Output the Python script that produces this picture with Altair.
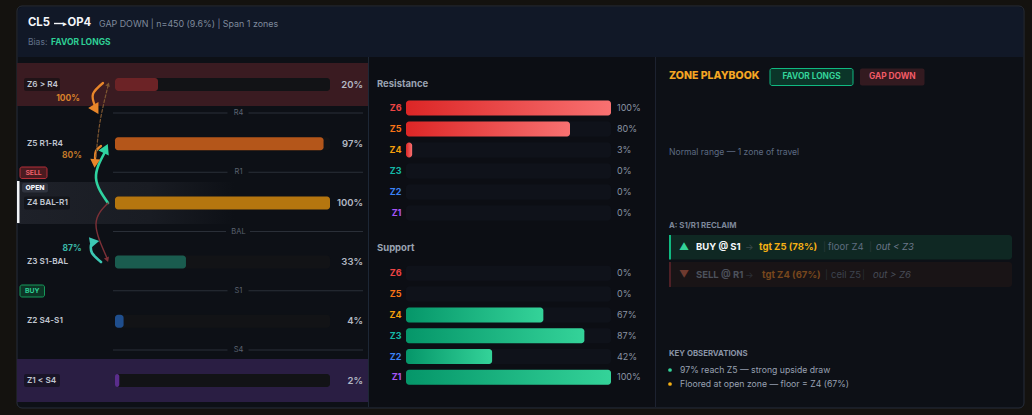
import altair as alt
import pandas as pd

W, H = 1032, 415
FONT = "Inter"

# ---------------- data ----------------
zones = ["Z6", "Z5", "Z4", "Z3", "Z2", "Z1"]
zone_names = ["Z6 > R4", "Z5 R1-R4", "Z4 BAL-R1", "Z3 S1-BAL", "Z2 S4-S1", "Z1 < S4"]
zone_pill = [True, False, True, False, False, True]
reach_pct = [20, 97, 100, 33, 4, 2]
reach_fill = ["#6c2326", "#b4561a", "#b5760f", "#1a5c4f", "#1f4e8d", "#5a2d8c"]
zone_text_colors = ["#ef4444", "#f97316", "#f59e0b", "#14b8a6", "#3b82f6", "#a855f7"]
levels = ["R4", "R1", "BAL", "S1", "S4"]
resistance_pct = [100, 80, 3, 0, 0, 0]
support_pct = [0, 0, 67, 87, 42, 100]

# transition arrows drawn over the ladder: (name, colour, width, dashed, points)
arrow_paths = [
    ("up6", "#e8862a", 2.3, False, [(103, 83), (93, 94), (95, 106)]),
    ("hold5", "#e8862a", 2.3, False, [(101, 146), (96, 151), (95, 159)]),
    ("reach6", "#7d5631", 1.2, True, [(96, 157), (100, 122), (108, 86)]),
    ("up5", "#2fd3a0", 2.6, False, [(108, 203), (96, 178), (105, 152)]),
    ("down3", "#7c3037", 1.4, False, [(108, 203), (96, 224), (107, 258)]),
    ("hold3", "#3cc8b4", 2.6, False, [(101, 262), (92, 253), (91, 245)]),
]
# arrow heads: x, y, angle, size, colour
arrow_heads = [
    (95, 108, 150, 140, "#e8862a"),
    (95, 162, 185, 100, "#e8862a"),
    (108, 85, 20, 22, "#7d5631"),
    (105, 150, 25, 130, "#2fd3a0"),
    (107, 259, 160, 30, "#7c3037"),
    (93, 242, 320, 120, "#3cc8b4"),
]
arrow_pcts = [("100%", 68, 98, "#d9822b"), ("80%", 72, 155, "#c0782a"), ("87%", 72, 248, "#3ab8a8")]


# ---------------- helpers ----------------
def one():
    return pd.DataFrame({"k": [0]})


def sx():
    return alt.Scale(domain=[0, W], range=[0, W], nice=False, zero=False)


def sy():
    return alt.Scale(domain=[0, H], range=[0, H], nice=False, zero=False)


def box(x0, x1, y0, y1, fill, **kw):
    return alt.Chart(one()).mark_rect(color=fill, **kw).encode(
        x=alt.value(x0), x2=alt.value(x1), y=alt.value(y0), y2=alt.value(y1))


def vline(x, y0, y1, color):
    return alt.Chart(one()).mark_rule(color=color, strokeWidth=1).encode(
        x=alt.value(x), y=alt.value(y0), y2=alt.value(y1))


def label(x, y, s, color, size=9, weight="normal", align="left", style="normal"):
    return alt.Chart(one()).mark_text(
        text=s, color=color, fontSize=size, fontWeight=weight, align=align,
        baseline="middle", font=FONT, fontStyle=style,
    ).encode(x=alt.value(x), y=alt.value(y))


def band(domain, r0, r1):
    return alt.Scale(type="band", domain=domain, range=[r0, r1], paddingInner=0, paddingOuter=0)


def pts(domain, r0, r1, pad=0.5):
    return alt.Scale(type="point", domain=domain, range=[r0, r1], padding=pad)


def grad(c0, c1):
    return alt.LinearGradient(
        gradient="linear", x1=0, x2=1, y1=0, y2=0,
        stops=[alt.GradientStop(color=c0, offset=0), alt.GradientStop(color=c1, offset=1)])


layers = []

# ---------------- card ----------------
layers.append(box(17, 1024, 6, 408, "#0d1016", stroke="#262d3a", strokeWidth=1, cornerRadius=5))
layers.append(box(18, 1023, 7, 57, "#111827", cornerRadiusTopLeft=4, cornerRadiusTopRight=4))
layers.append(box(369, 655, 57, 407, "#0c0e14"))
layers.append(vline(368.5, 57, 407, "#1d2735"))
layers.append(vline(655.5, 57, 407, "#1d2230"))

# header
layers.append(label(28, 23, "CL5", "#f4f6fa", 11.3, 700))
layers.append(alt.Chart(one()).mark_rule(color="#f4f6fa", strokeWidth=1.4).encode(
    x=alt.value(54), x2=alt.value(63), y=alt.value(23.5)))
layers.append(label(64.5, 23.5, "▸", "#f4f6fa", 7, 700, "center"))
layers.append(label(67.5, 23, "OP4", "#f4f6fa", 11.3, 700))
layers.append(label(99, 24, "GAP DOWN | n=450 (9.6%) | Span 1 zones", "#7f8a9c", 8.9))
layers.append(label(28, 42, "Bias:", "#61718a", 8.5))
layers.append(label(51, 42, "FAVOR LONGS", "#2ecf95", 8.5, 700))

# ---------------- left panel: zone ladder ----------------
ladder = pd.DataFrame({
    "zone": zones, "name": zone_names, "pill": zone_pill, "pct": reach_pct,
    "fill": reach_fill, "zero": 0, "label": [f"{v}%" for v in reach_pct],
})
ladder["px0"] = 24
ladder["px1"] = 24 + ladder["name"].str.len() * 5.0 + 1
ladder["bx0"] = 17
ladder["bx1"] = 368
ybar = band(zones, 54.9, 410.1)
ytxt = pts(zones, 54.9, 410.1)

edge_rows = ladder[ladder["zone"].isin(["Z6", "Z1"])].copy()
edge_rows["bg"] = ["#3a1b21", "#2a1e43"]
layers.append(alt.Chart(edge_rows).mark_bar(size=43).encode(
    x=alt.X("bx0:Q", scale=sx(), axis=None), x2="bx1",
    y=alt.Y("zone:N", scale=ybar, axis=None),
    color=alt.Color("bg:N", scale=None)))

open_row = ladder[ladder["zone"] == "Z4"]
layers.append(alt.Chart(open_row).mark_bar(
    size=42,
    color=alt.LinearGradient(
        gradient="linear", x1=0, x2=1, y1=0, y2=0,
        stops=[alt.GradientStop(color="#1e2129", offset=0),
               alt.GradientStop(color="#191c23", offset=0.38),
               alt.GradientStop(color="#0d1016", offset=0.62),
               alt.GradientStop(color="#0d1016", offset=1)]),
).encode(x=alt.X("bx0:Q", scale=sx(), axis=None), x2="bx1",
         y=alt.Y("zone:N", scale=ybar, axis=None)))
layers.append(box(17, 19.5, 181, 223, "#f1f3f6"))

# level separators
lv = []
for name in levels:
    half = 7.5 + 1.5 * len(name)
    lv.append({"level": name, "a": 113, "b": 238 - half})
    lv.append({"level": name, "a": 238 + half, "b": 363})
lv = pd.DataFrame(lv)
ylv = pts(levels, 113, 350, pad=0)
layers.append(alt.Chart(lv).mark_rule(color="#2a2f38", strokeWidth=1).encode(
    x=alt.X("a:Q", scale=sx(), axis=None), x2="b",
    y=alt.Y("level:N", scale=ylv, axis=None)))
layers.append(alt.Chart(pd.DataFrame({"level": levels})).mark_text(
    font=FONT, fontSize=7.5, color="#5b6270", baseline="middle", align="center",
).encode(x=alt.value(238.5), y=alt.Y("level:N", scale=ylv, axis=None), text="level:N"))

# reach bars
xreach = alt.Scale(domain=[0, 100], range=[115, 330], nice=False, zero=False)
track = ladder.assign(full=100)
layers.append(alt.Chart(track).mark_bar(size=13, color="#121316", cornerRadius=3).encode(
    x=alt.X("zero:Q", scale=xreach, axis=None), x2="full",
    y=alt.Y("zone:N", scale=ybar, axis=None)))
layers.append(alt.Chart(ladder).mark_bar(size=13, cornerRadius=3).encode(
    x=alt.X("zero:Q", scale=xreach, axis=None), x2="pct",
    y=alt.Y("zone:N", scale=ybar, axis=None),
    color=alt.Color("fill:N", scale=None)))
layers.append(alt.Chart(ladder).mark_text(
    font=FONT, fontSize=9.5, fontWeight=600, color="#b3b9c4", align="right", baseline="middle",
).encode(x=alt.value(363), y=alt.Y("zone:N", scale=ytxt, axis=None), text="label:N"))

# zone names (some inside a pill)
pills = ladder[ladder["pill"]]
layers.append(alt.Chart(pills).mark_bar(size=13, cornerRadius=2, color="#0b0c10", opacity=0.55).encode(
    x=alt.X("px0:Q", scale=sx(), axis=None), x2="px1",
    y=alt.Y("zone:N", scale=ybar, axis=None)))
layers.append(alt.Chart(ladder).mark_text(
    font=FONT, fontSize=8.2, fontWeight=600, color="#c0c6d0", align="left", baseline="middle",
).encode(x=alt.value(27), y=alt.Y("zone:N", scale=ytxt, axis=None), text="name:N"))

# badges
layers.append(box(20, 47, 167, 178.5, "#4a1b20", stroke="#b52f39", strokeWidth=1, cornerRadius=2))
layers.append(label(33.5, 173, "SELL", "#f0606a", 6.8, 700, "center"))
layers.append(box(22, 48, 183, 192.5, "#30343f", cornerRadius=2))
layers.append(label(35, 188, "OPEN", "#f4f6fb", 6.8, 800, "center"))
layers.append(box(20, 44.5, 285, 297, "#0d3526", stroke="#169a5a", strokeWidth=1, cornerRadius=2))
layers.append(label(32.3, 291, "BUY", "#2ecf95", 6.8, 700, "center"))

# transition arrows
path_rows, dash_rows = [], []
for name, col, w, dashed, points in arrow_paths:
    for i, (x, y) in enumerate(points):
        row = {"curve": name, "i": i, "x": x, "y": y, "col": col, "w": w}
        (dash_rows if dashed else path_rows).append(row)
for rows, dash in ((path_rows, None), (dash_rows, [3, 2])):
    mk = dict(interpolate="natural", strokeCap="round")
    if dash:
        mk["strokeDash"] = dash
    layers.append(alt.Chart(pd.DataFrame(rows)).mark_line(**mk).encode(
        x=alt.X("x:Q", scale=sx(), axis=None), y=alt.Y("y:Q", scale=sy(), axis=None),
        detail="curve:N", order="i:Q",
        color=alt.Color("col:N", scale=None),
        strokeWidth=alt.StrokeWidth("w:Q", scale=None)))
heads = pd.DataFrame(arrow_heads, columns=["x", "y", "ang", "s", "col"])
layers.append(alt.Chart(heads).mark_point(shape="triangle", filled=True, opacity=1).encode(
    x=alt.X("x:Q", scale=sx(), axis=None), y=alt.Y("y:Q", scale=sy(), axis=None),
    angle=alt.Angle("ang:Q", scale=None), size=alt.Size("s:Q", scale=None),
    color=alt.Color("col:N", scale=None)))
for txt, x, y, col in arrow_pcts:
    layers.append(label(x, y, txt, col, 8.5, 700, "center"))

# ---------------- middle panel: resistance / support ----------------
xmid = alt.Scale(domain=[0, 100], range=[406, 611], nice=False, zero=False)


def strength_block(title, title_y, values, r0, r1, c0, c1):
    df = pd.DataFrame({"zone": zones, "pct": values, "zero": 0, "full": 100,
                       "tc": zone_text_colors, "label": [f"{v}%" for v in values]})
    yb = band(zones, r0, r1)
    yt = pts(zones, r0, r1)
    out = [label(377, title_y, title, "#9aa3b2", 9.5, 700)]
    out.append(alt.Chart(df).mark_bar(size=15, color="#0f121a", cornerRadius=3).encode(
        x=alt.X("zero:Q", scale=xmid, axis=None), x2="full",
        y=alt.Y("zone:N", scale=yb, axis=None)))
    out.append(alt.Chart(df[df["pct"] > 0]).mark_bar(size=15, cornerRadius=3, color=grad(c0, c1)).encode(
        x=alt.X("zero:Q", scale=xmid, axis=None), x2="pct",
        y=alt.Y("zone:N", scale=yb, axis=None)))
    out.append(alt.Chart(df).mark_text(
        font=FONT, fontSize=9, fontWeight=700, align="right", baseline="middle",
    ).encode(x=alt.value(401.5), y=alt.Y("zone:N", scale=yt, axis=None), text="zone:N",
             color=alt.Color("tc:N", scale=None)))
    out.append(alt.Chart(df).mark_text(
        font=FONT, fontSize=9, color="#8a93a3", align="left", baseline="middle",
    ).encode(x=alt.value(617), y=alt.Y("zone:N", scale=yt, axis=None), text="label:N"))
    return out


layers += strength_block("Resistance", 84, resistance_pct, 97.5, 223.5, "#dc2626", "#f87171")
layers += strength_block("Support", 248, support_pct, 262.9, 387.7, "#059669", "#34d399")

# ---------------- right panel: playbook ----------------
layers.append(label(669, 76, "ZONE PLAYBOOK", "#f5a623", 10.5, 800))
layers.append(box(770, 853, 68.5, 85.5, "#0b3529", stroke="#10b981", strokeWidth=1, cornerRadius=2))
layers.append(label(811.5, 77, "FAVOR LONGS", "#34d399", 8.3, 700, "center"))
layers.append(box(860, 924.5, 68.5, 85.5, "#331a20", cornerRadius=2))
layers.append(label(892.3, 77, "GAP DOWN", "#f25a66", 8.3, 700, "center"))
layers.append(label(669, 152, "Normal range — 1 zone of travel", "#5d6b82", 8.6))

layers.append(label(669, 226, "A: S1/R1 RECLAIM", "#7d8799", 7.8, 700))
layers.append(box(669, 1012, 235, 259.5, "#0f2823", cornerRadius=3))
layers.append(box(669, 671, 235, 259.5, "#10b981"))
layers.append(label(684, 247, "▲", "#34d399", 10, 400, "center"))
layers.append(label(696, 247, "BUY @ S1", "#f6f8fb", 9.5, 700))
layers.append(label(745, 247, "→", "#3b4a4c", 9))
layers.append(label(759, 247, "tgt Z5 (78%)", "#f5b014", 9.5, 700))
layers.append(label(823, 247, "|", "#2c3b3d", 9))
layers.append(label(828, 247, "floor Z4", "#5f6d80", 9.5))
layers.append(label(869, 247, "|", "#2c3b3d", 9))
layers.append(label(876, 247, "out < Z3", "#6c7789", 9.5, 400, style="italic"))

layers.append(box(669, 1012, 262, 287, "#191416", cornerRadius=3))
layers.append(box(669, 671, 262, 287, "#4e2026"))
layers.append(label(684, 274.5, "▼", "#6e3a2f", 10, 400, "center"))
layers.append(label(696, 274.5, "SELL @ R1", "#4c515c", 9.5, 700))
layers.append(label(745, 274.5, "→", "#2c3036", 9))
layers.append(label(762, 274.5, "tgt Z4 (67%)", "#77471d", 9.5, 700))
layers.append(label(825, 274.5, "|", "#2a2e34", 9))
layers.append(label(831, 274.5, "ceil Z5", "#3d434e", 9.5))
layers.append(label(862, 274.5, "|", "#2a2e34", 9))
layers.append(label(873, 274.5, "out > Z6", "#474c57", 9.5, 400, style="italic"))

layers.append(label(669, 354, "KEY OBSERVATIONS", "#8a94a6", 7.8, 700))
notes = pd.DataFrame({
    "y": [370, 384],
    "dot": ["#34d399", "#f5b014"],
    "text": ["97% reach Z5 — strong upside draw", "Floored at open zone — floor = Z4 (67%)"],
})
layers.append(alt.Chart(notes).mark_point(shape="circle", filled=True, size=14, opacity=1).encode(
    x=alt.value(670), y=alt.Y("y:Q", scale=sy(), axis=None), color=alt.Color("dot:N", scale=None)))
layers.append(alt.Chart(notes).mark_text(
    font=FONT, fontSize=8.7, color="#98a1b2", align="left", baseline="middle",
).encode(x=alt.value(680), y=alt.Y("y:Q", scale=sy(), axis=None), text="text:N"))

chart = alt.layer(*layers).resolve_scale(
    x="independent", y="independent"
).properties(
    width=W, height=H, background="#14120f", padding=0,
    autosize=alt.AutoSizeParams(type="none"),
).configure_view(stroke=None)

chart.save("out.html", embed_options={"renderer": "svg", "actions": False})
